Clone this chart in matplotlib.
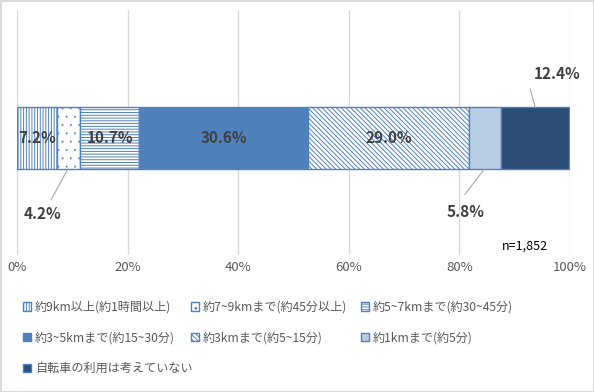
import numpy as np
import matplotlib as mpl
import matplotlib.pyplot as plt
from matplotlib.patches import Patch

plt.rcParams['font.family'] = ['Noto Sans CJK JP', 'DejaVu Sans']
plt.rcParams['hatch.linewidth'] = 0.7

# data
labels = ['約9km以上(約1時間以上)', '約7~9kmまで(約45分以上)', '約5~7kmまで(約30~45分)',
          '約3~5kmまで(約15~30分)', '約3kmまで(約5~15分)', '約1kmまで(約5分)',
          '自転車の利用は考えていない']
values = [7.2, 4.2, 10.7, 30.6, 29.0, 5.8, 12.4]
ticks = [0, 20, 40, 60, 80, 100]
n_text = 'n=1,852'

blue = '#4F81BD'
faces = ['white', 'white', 'white', blue, 'white', '#B9CDE5', '#2C4D75']
hatches = ['||||||', '..', '------', None, '\\\\\\\\\\\\\\', None, None]
hatch_lw = [0.7, 0.2, 0.7, 0.7, 0.7, 0.7, 0.7]

fig = plt.figure(figsize=(5.94, 3.92), dpi=100, linewidth=1, edgecolor='#D9D9D9')
ax = fig.add_axes([0.0286, 0.349, 0.931, 0.625])

y = 0.478
h = 0.253
left = 0
for v, fc, ht, hl in zip(values, faces, hatches, hatch_lw):
    with mpl.rc_context({'hatch.linewidth': hl}):
        ax.barh(y, v, height=h, left=left, color=fc, edgecolor=blue, hatch=ht, linewidth=1, zorder=3)
    left += v

cum = np.cumsum([0] + values)
lab_kw = dict(fontsize=11, fontweight='bold', color='#404040', ha='center', va='center', zorder=5)
# inside labels
for i in [0, 2, 3, 4]:
    ax.text((cum[i] + cum[i + 1]) / 2, y, f'{values[i]:.1f}%', **lab_kw)

# outside labels with leader lines
ax.plot([9.2, 6.2], [y - h / 2, y - 0.25], color='#A6A6A6', lw=0.8, zorder=4)
ax.text(4.6, y - 0.31, f'{values[1]:.1f}%', **lab_kw)
ax.plot([84.5, 81.0], [y - h / 2, y - 0.23], color='#A6A6A6', lw=0.8, zorder=4)
ax.text(81.2, y - 0.30, f'{values[5]:.1f}%', **lab_kw)
ax.plot([93.7, 92.8], [y + h / 2, y + 0.2], color='#A6A6A6', lw=0.8, zorder=4)
ax.text(97.6, y + 0.26, f'{values[6]:.1f}%', **lab_kw)

ax.text(91.8, 0.035, n_text, fontsize=9, color='black', ha='center', va='center')

ax.set_xlim(0, 100)
ax.set_ylim(0, 1)
ax.set_xticks(ticks)
ax.set_xticklabels([f'{t}%' for t in ticks], fontsize=9.5, color='#595959')
ax.set_yticks([])
ax.tick_params(axis='x', length=0, pad=4)
ax.grid(axis='x', color='#D9D9D9', lw=1, zorder=0)
for s in ax.spines.values():
    s.set_visible(False)

handles = []
for fc, ht, hl in zip(faces, hatches, hatch_lw):
    with mpl.rc_context({'hatch.linewidth': hl}):
        handles.append(Patch(facecolor=fc, edgecolor=blue, hatch=ht, linewidth=1))

# one legend per column so columns line up like the original
col_x = [0.02, 0.303, 0.589]
for c, x0 in enumerate(col_x):
    idx = list(range(c, len(labels), 3))
    fig.legend([handles[i] for i in idx], [labels[i] for i in idx],
               loc='upper left', bbox_to_anchor=(x0, 0.26), frameon=False,
               fontsize=8.7, handlelength=0.7, handleheight=0.7, handletextpad=0.3,
               labelspacing=1.45, labelcolor='#595959')

fig.savefig('out.png', dpi=100)
